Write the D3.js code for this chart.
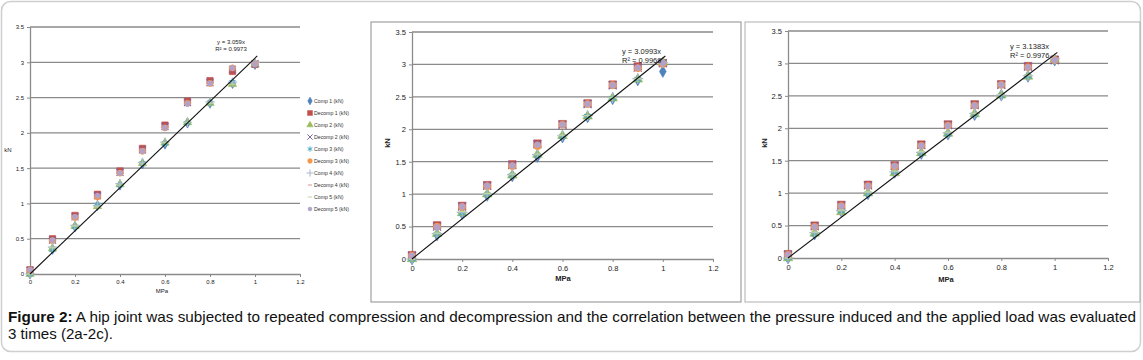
<!DOCTYPE html>
<html>
<head>
<meta charset="UTF-8">
<title>Figure 2</title>
<script src="https://cdn.jsdelivr.net/npm/d3@7"></script>
<style>
  body { margin: 0; background: #fff; }
  svg { display: block; font-family: "Liberation Sans", Arial, sans-serif; }
</style>
</head>
<body>
<script>
// x values (MPa) shared by every series
const pressure = [0, 0.1, 0.2, 0.3, 0.4, 0.5, 0.6, 0.7, 0.8, 0.9, 1.0];
const xTicks = [0, 0.2, 0.4, 0.6, 0.8, 1, 1.2];
const yTicks = [0, 0.5, 1, 1.5, 2, 2.5, 3, 3.5];
const seriesNames = ["Comp 1  (kN)", "Decomp 1 (kN)", "Comp 2  (kN)", "Decomp 2 (kN)", "Comp 3  (kN)",
  "Decomp 3 (kN)", "Comp 4  (kN)", "Decomp 4 (kN)", "Comp 5  (kN)", "Decomp 5 (kN)"];

// load (kN), one row per series, panel a
const loadA = [
  [0, 0.35, 0.67, 0.97, 1.26, 1.56, 1.84, 2.14, 2.42, 2.70, 2.97],
  [0.06, 0.50, 0.83, 1.13, 1.46, 1.78, 2.11, 2.45, 2.74, 2.87, 2.97],
  [0, 0.36, 0.68, 0.96, 1.27, 1.57, 1.86, 2.15, 2.42, 2.69, 2.97],
  [0.05, 0.48, 0.81, 1.11, 1.44, 1.76, 2.09, 2.43, 2.71, 2.90, 2.98],
  [0, 0.34, 0.67, 0.98, 1.26, 1.57, 1.85, 2.14, 2.43, 2.72, 2.99],
  [0.05, 0.47, 0.80, 1.09, 1.43, 1.74, 2.07, 2.42, 2.70, 2.92, 2.98],
  [0, 0.38, 0.69, 0.97, 1.28, 1.58, 1.87, 2.15, 2.44, 2.72, 3.00],
  [0.06, 0.49, 0.82, 1.12, 1.45, 1.77, 2.10, 2.44, 2.72, 2.91, 2.99],
  [0, 0.37, 0.68, 0.95, 1.26, 1.56, 1.86, 2.15, 2.42, 2.69, 2.96],
  [0.06, 0.48, 0.81, 1.11, 1.43, 1.74, 2.07, 2.41, 2.70, 2.92, 2.97]
];
// panel b
const loadB = [
  [0, 0.37, 0.70, 0.98, 1.28, 1.58, 1.88, 2.19, 2.47, 2.76, 2.89],
  [0.06, 0.52, 0.82, 1.14, 1.46, 1.78, 2.08, 2.40, 2.69, 2.97, 3.02],
  [0, 0.39, 0.71, 1.00, 1.29, 1.61, 1.90, 2.20, 2.48, 2.77, 3.03],
  [0.05, 0.50, 0.81, 1.13, 1.45, 1.77, 2.07, 2.39, 2.68, 2.95, 3.02],
  [0, 0.38, 0.70, 0.99, 1.29, 1.60, 1.89, 2.20, 2.48, 2.77, 3.02],
  [0.05, 0.50, 0.80, 1.12, 1.43, 1.74, 2.07, 2.39, 2.68, 2.94, 3.01],
  [0, 0.39, 0.72, 1.00, 1.30, 1.61, 1.90, 2.21, 2.49, 2.78, 3.03],
  [0.06, 0.51, 0.82, 1.14, 1.45, 1.77, 2.08, 2.40, 2.69, 2.96, 3.02],
  [0, 0.40, 0.73, 1.01, 1.31, 1.62, 1.91, 2.21, 2.49, 2.78, 3.04],
  [0.05, 0.49, 0.81, 1.13, 1.44, 1.76, 2.07, 2.39, 2.68, 2.95, 3.02]
];
// panel c
const loadC = [
  [0, 0.37, 0.72, 0.99, 1.32, 1.61, 1.91, 2.21, 2.51, 2.80, 3.05],
  [0.06, 0.50, 0.82, 1.13, 1.43, 1.75, 2.06, 2.37, 2.68, 2.96, 3.06],
  [0, 0.38, 0.71, 1.00, 1.31, 1.62, 1.92, 2.22, 2.51, 2.80, 3.06],
  [0.05, 0.49, 0.81, 1.12, 1.42, 1.74, 2.05, 2.36, 2.67, 2.95, 3.05],
  [0, 0.37, 0.72, 0.99, 1.32, 1.61, 1.91, 2.21, 2.50, 2.80, 3.05],
  [0.05, 0.48, 0.80, 1.11, 1.41, 1.73, 2.04, 2.35, 2.67, 2.94, 3.05],
  [0, 0.39, 0.73, 1.01, 1.33, 1.63, 1.93, 2.23, 2.51, 2.81, 3.07],
  [0.06, 0.49, 0.81, 1.12, 1.42, 1.74, 2.05, 2.36, 2.68, 2.95, 3.06],
  [0, 0.40, 0.74, 1.02, 1.34, 1.64, 1.94, 2.23, 2.52, 2.82, 3.07],
  [0.05, 0.48, 0.80, 1.11, 1.42, 1.73, 2.04, 2.35, 2.67, 2.94, 3.05]
];
const slopes = [3.059, 3.0993, 3.1383];
const eqLabels = [["y = 3.059x", "R\u00b2 = 0.9973"], ["y = 3.0993x", "R\u00b2 = 0.9969"], ["y = 3.1383x", "R\u00b2 = 0.9976"]];

const colors = ["#4F81BD", "#C0504D", "#9BBB59", "#8064A2", "#4BACC6", "#F79646", "#A9B9CF", "#D99694", "#C3D69B", "#B3A2C7"];

const dash = { draw(ctx, size) { const r = Math.sqrt(size) / 2; ctx.moveTo(-r, 0); ctx.lineTo(r, 0); } };
const times = d3.symbolTimes || { draw(ctx, size) { const r = Math.sqrt(size) / 2; ctx.moveTo(-r, -r); ctx.lineTo(r, r); ctx.moveTo(-r, r); ctx.lineTo(r, -r); } };
const plus = d3.symbolPlus || { draw(ctx, size) { const r = Math.sqrt(size) / 2; ctx.moveTo(-r, 0); ctx.lineTo(r, 0); ctx.moveTo(0, -r); ctx.lineTo(0, r); } };
const asterisk = d3.symbolAsterisk || times;
const markers = [
  { type: d3.symbolDiamond, fill: true, k: 1.0 },
  { type: d3.symbolSquare, fill: true, k: 1.35 },
  { type: d3.symbolTriangle, fill: true, k: 1.0 },
  { type: times, fill: false, k: 1.1 },
  { type: asterisk, fill: false, k: 1.1 },
  { type: d3.symbolCircle, fill: true, k: 1.0 },
  { type: plus, fill: false, k: 1.0 },
  { type: dash, fill: false, k: 1.0 },
  { type: dash, fill: false, k: 1.2 },
  { type: d3.symbolCircle, fill: true, k: 0.7 }
];

const W = 1143, H = 360;
const svg = d3.select("body").append("svg").attr("width", W).attr("height", H);

// outer figure box and panel frames
svg.append("rect").attr("x", 1.5).attr("y", 1.5).attr("width", W - 4).attr("height", 350)
  .attr("rx", 9).attr("fill", "none").attr("stroke", "#cfcfcf").attr("stroke-width", 1.5);
svg.append("rect").attr("x", 371).attr("y", 22).attr("width", 370).attr("height", 280)
  .attr("fill", "none").attr("stroke", "#a0a0a0").attr("stroke-width", 1.2);
svg.append("rect").attr("x", 745).attr("y", 22).attr("width", 395).attr("height", 280)
  .attr("fill", "none").attr("stroke", "#b0b0b0").attr("stroke-width", 1);

const panels = [
  { data: loadA, left: 30, right: 300, top: 27, bottom: 274, font: 5.5, ms: 30, eq: [231, 44], kN: [8, 152, false], mpa: [162, 293], legend: true },
  { data: loadB, left: 412, right: 713, top: 32, bottom: 259, font: 7, ms: 40, eq: [622, 54], kN: [390, 143, true], mpa: [563, 281], legend: false },
  { data: loadC, left: 788, right: 1108, top: 31, bottom: 258, font: 7, ms: 40, eq: [1010, 49], kN: [767, 143, true], mpa: [946, 282], legend: false }
];

panels.forEach((p, pi) => {
  const x = d3.scaleLinear().domain([0, 1.2]).range([p.left, p.right]);
  const y = d3.scaleLinear().domain([0, 3.5]).range([p.bottom, p.top]);
  const g = svg.append("g");

  // horizontal gridlines
  g.append("g").selectAll("line").data(yTicks.slice(1)).join("line")
    .attr("x1", p.left).attr("x2", p.right)
    .attr("y1", d => y(d)).attr("y2", d => y(d))
    .attr("stroke", "#8a8a8a").attr("stroke-width", 1.3);

  const xAxis = g.append("g").attr("transform", `translate(0,${p.bottom})`)
    .call(d3.axisBottom(x).tickValues(xTicks).tickSize(3).tickSizeOuter(0).tickFormat(d3.format("")));
  const yAxis = g.append("g").attr("transform", `translate(${p.left},0)`)
    .call(d3.axisLeft(y).tickValues(yTicks).tickSize(3).tickSizeOuter(0).tickFormat(d3.format("")));
  [xAxis, yAxis].forEach(a => {
    a.select(".domain").attr("stroke", "#8a8a8a").attr("stroke-width", 1.3);
    a.selectAll(".tick line").attr("stroke", "#8a8a8a");
    a.selectAll(".tick text").attr("fill", "#222").attr("font-size", p.font + 0.5)
      .attr("font-family", "Liberation Sans, Arial, sans-serif");
  });
  xAxis.selectAll(".tick text").attr("dy", "1em").attr("y", 4);
  yAxis.selectAll(".tick text").attr("x", -6);

  // markers
  p.data.forEach((vals, si) => {
    const m = markers[si];
    const sym = d3.symbol().type(m.type).size(p.ms * m.k);
    g.append("g").selectAll("path").data(vals).join("path")
      .attr("transform", (d, i) => `translate(${x(pressure[i])},${y(d)})`)
      .attr("d", sym)
      .attr("fill", m.fill ? colors[si] : "none")
      .attr("stroke", colors[si])
      .attr("stroke-width", m.fill ? 0.6 : 1.2);
  });

  // linear trendline through origin
  const trend = d3.line().x(d => x(d)).y(d => y(d * slopes[pi]));
  g.append("path").datum([0, 1.01]).attr("d", trend)
    .attr("fill", "none").attr("stroke", "#111").attr("stroke-width", 1.1);

  const eq = g.append("text").attr("x", p.eq[0]).attr("y", p.eq[1])
    .attr("font-size", p.font + 0.5).attr("fill", "#222")
    .attr("text-anchor", pi === 0 ? "middle" : "start");
  eq.append("tspan").attr("x", p.eq[0]).text(eqLabels[pi][0]);
  eq.append("tspan").attr("x", p.eq[0]).attr("dy", "1.15em").text(eqLabels[pi][1]);

  // axis titles
  const kN = g.append("text").attr("font-size", p.font + 0.5).attr("fill", "#222")
    .attr("font-weight", p.kN[2] ? "bold" : "normal").attr("text-anchor", "middle").text("kN");
  if (p.kN[2]) kN.attr("transform", `translate(${p.kN[0]},${p.kN[1]}) rotate(-90)`);
  else kN.attr("x", p.kN[0]).attr("y", p.kN[1]);
  g.append("text").attr("x", p.mpa[0]).attr("y", p.mpa[1]).attr("text-anchor", "middle")
    .attr("font-size", p.font + 0.5).attr("font-weight", p.kN[2] ? "bold" : "normal")
    .attr("fill", "#222").text("MPa");

  if (p.legend) {
    const lg = g.append("g").selectAll("g").data(seriesNames).join("g")
      .attr("transform", (d, i) => `translate(310,${101 + i * 12})`);
    lg.append("path")
      .attr("d", (d, i) => d3.symbol().type(markers[i].type).size(18 * markers[i].k)())
      .attr("fill", (d, i) => markers[i].fill ? colors[i] : "none")
      .attr("stroke", (d, i) => colors[i]).attr("stroke-width", (d, i) => markers[i].fill ? 0.5 : 1);
    lg.append("text").attr("x", 4).attr("y", 2).attr("font-size", 5.2).attr("fill", "#333").text(d => d);
  }
});

// caption
const cap = svg.append("text").attr("x", 8).attr("y", 322).attr("font-size", 14.5).attr("fill", "#111")
  .attr("font-family", "Liberation Sans Narrow, Liberation Sans, Arial, sans-serif")
  .attr("textLength", 1128).attr("lengthAdjust", "spacingAndGlyphs");
cap.append("tspan").attr("font-weight", "bold").text("Figure 2:");
cap.append("tspan").text(" A hip joint was subjected to repeated compression and decompression and the correlation between the pressure induced and the applied load was evaluated");
svg.append("text").attr("x", 8).attr("y", 339).attr("font-size", 14.5).attr("fill", "#111")
  .attr("font-family", "Liberation Sans Narrow, Liberation Sans, Arial, sans-serif")
  .attr("textLength", 105).attr("lengthAdjust", "spacingAndGlyphs")
  .text("3 times (2a-2c).");
</script>
</body>
</html>
